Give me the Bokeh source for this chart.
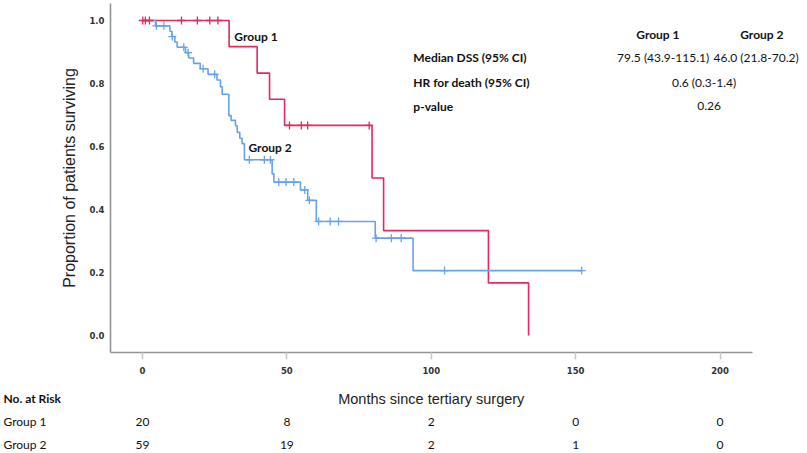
import numpy as np
from bokeh.plotting import figure
from bokeh.models import ColumnDataSource, LabelSet, Label, Range1d, FixedTicker, NumeralTickFormatter
from bokeh.embed import file_html
from bokeh.resources import INLINE
from bokeh.core.properties import value

# ---------------- data ----------------
g1_times = [0, 30.0, 39.7, 44.0, 49.2, 79.5, 83.5, 119.8, 133.7]
g1_surv = [1.0, 0.917, 0.833, 0.750, 0.667, 0.500, 0.333, 0.167, 0.0]
g1_censor = [0.1, 1.0, 2.4, 13.5, 19.0, 23.3, 26.1, 50.9, 55.0, 57.2, 78.5]

g2_times = [0, 4.5, 9.5, 10.2, 11.2, 12.0, 14.9, 16.0, 17.7, 20.0, 22.7, 25.8, 27.0,
            27.6, 29.9, 30.7, 32.2, 32.8, 33.7, 34.5, 35.3, 44.9, 45.5, 54.7, 57.2,
            60.2, 80.6, 93.7]
g2_surv = [1.0, 0.983, 0.966, 0.949, 0.932, 0.915, 0.898, 0.881, 0.864, 0.847, 0.829,
           0.811, 0.790, 0.766, 0.698, 0.683, 0.666, 0.645, 0.626, 0.609, 0.558, 0.513,
           0.487, 0.462, 0.429, 0.362, 0.309, 0.206]
g2_last_followup = 152.1
g2_censor = [4.8, 7.4, 10.3, 14.3, 15.8, 21.0, 25.0, 37.0, 42.2, 44.3, 47.2, 49.7,
             52.4, 56.2, 57.8, 61.0, 65.0, 67.9, 80.9, 86.2, 89.6, 104.6, 152.1]

x_ticks = [0, 50, 100, 150, 200]
y_ticks = [0.0, 0.2, 0.4, 0.6, 0.8, 1.0]

risk_g1 = [20, 8, 2, 0, 0]
risk_g2 = [59, 19, 2, 1, 0]
risk_header = "No. at Risk"
risk_groups = ["Group 1", "Group 2"]

stat_headers = ["Group 1", "Group 2"]
stat_rows = ["Median DSS (95% CI)", "HR for death (95% CI)", "p-value"]
median_g1 = "79.5 (43.9-115.1)"
median_g2 = "46.0 (21.8-70.2)"
hr_text = "0.6 (0.3-1.4)"
p_text = "0.26"

RED = "#E2285F"
BLUE = "#66A3EA"
FONT = "Lato"
TXT = "#111111"
FS = "12px"


def censor_y(times, surv, cens):
    t = np.asarray(times)
    s = np.asarray(surv)
    idx = np.searchsorted(t, np.asarray(cens), side="right") - 1
    return s[idx]


W = 807
LEFT = 110
X0, X1 = -11.08, 230.3          # visible x range of the main frame
AX_END = 211.1                  # where the drawn x axis line stops

p = figure(width=W, height=383, output_backend="svg", toolbar_location=None,
           x_range=Range1d(X0, X1), y_range=Range1d(-0.054, 1.054),
           min_border_left=LEFT, min_border_right=0, min_border_top=3,
           min_border_bottom=31)
p.outline_line_color = None
p.xgrid.visible = False
p.ygrid.visible = False

# step curves
p.step(g1_times, g1_surv, mode="after", line_color=RED, line_width=1.6)
x2 = list(g2_times) + [g2_last_followup]
y2 = list(g2_surv) + [g2_surv[-1]]
p.step(x2, y2, mode="after", line_color=BLUE, line_width=1.6)

# censor marks
p.scatter(g1_censor, censor_y(g1_times, g1_surv, g1_censor), marker="cross",
          size=8, line_color=RED, line_width=1.3)
p.scatter(g2_censor, censor_y(x2, y2, g2_censor), marker="cross",
          size=8, line_color=BLUE, line_width=1.3)

# axes
for ax in (p.xaxis[0], p.yaxis[0]):
    ax.axis_line_color = "#949494"
    ax.axis_line_width = 1.6
    ax.minor_tick_line_color = None
    ax.major_label_text_font = "DejaVu Sans"
    ax.major_label_text_font_style = "bold"
    ax.major_label_text_font_size = "8.5px"
    ax.major_label_text_color = "#333333"
    ax.axis_label_text_font = "Liberation Sans"
    ax.axis_label_text_font_style = "normal"
    ax.axis_label_text_color = "#222222"

p.xaxis.bounds = (X0, AX_END)
p.xaxis.ticker = FixedTicker(ticks=x_ticks)
p.xaxis.major_tick_line_color = "#c8c8c8"
p.xaxis.major_tick_line_width = 1.5
p.xaxis.major_tick_out = 7
p.xaxis.major_tick_in = 0
p.xaxis.major_label_standoff = 7

p.yaxis.ticker = FixedTicker(ticks=y_ticks)
p.yaxis.formatter = NumeralTickFormatter(format="0.0")
p.yaxis.major_tick_line_color = None
p.yaxis.major_tick_out = 0
p.yaxis.major_tick_in = 0
p.yaxis.major_label_standoff = 6
p.yaxis.axis_label = "Proportion of patients surviving"
p.yaxis.axis_label_text_font_size = "16px"
p.yaxis.axis_label_standoff = 8

# curve labels
p.add_layout(Label(x=31.8, y=0.949, text="Group 1", text_baseline="middle",
                   text_font=FONT, text_font_style="bold", text_font_size=FS,
                   text_color=TXT))
p.add_layout(Label(x=36.7, y=0.597, text="Group 2", text_baseline="middle",
                   text_font=FONT, text_font_style="bold", text_font_size=FS,
                   text_color=TXT))

# statistics table
stat_y = [0.883, 0.803, 0.727]
hdr_src = ColumnDataSource(dict(x=[178.5, 214.5], y=[0.956, 0.956], t=stat_headers))
p.add_layout(LabelSet(x="x", y="y", text="t", source=hdr_src, text_align="center",
                      text_baseline="middle", text_font=value(FONT),
                      text_font_style="bold", text_font_size=FS, text_color=TXT))
row_src = ColumnDataSource(dict(x=[93.8] * 3, y=stat_y, t=stat_rows))
p.add_layout(LabelSet(x="x", y="y", text="t", source=row_src, text_align="left",
                      text_baseline="middle", text_font=value(FONT),
                      text_font_style="bold", text_font_size=FS, text_color=TXT))
val_src = ColumnDataSource(dict(x=[180.3, 212.5, 194.5, 196.2],
                                y=[stat_y[0], stat_y[0], stat_y[1], stat_y[2]],
                                t=[median_g1, median_g2, hr_text, p_text]))
p.add_layout(LabelSet(x="x", y="y", text="t", source=val_src, text_align="center",
                      text_baseline="middle", text_font=value(FONT),
                      text_font_size=FS, text_color=TXT))

# ---------------- lower panel: axis title + numbers at risk ----------------
px_per_unit = (W - LEFT) / (X1 - X0)
B0 = X0 - LEFT / px_per_unit
B1 = X1
H2 = 70
q = figure(width=W, height=H2, output_backend="svg", toolbar_location=None,
           x_range=Range1d(B0, B1), y_range=Range1d(H2, 0),
           min_border=0, min_border_left=0, min_border_right=0,
           min_border_top=0, min_border_bottom=0)
q.axis.visible = False
q.grid.visible = False
q.outline_line_color = None

q.text(x=[(X0 + AX_END) / 2], y=[15], text=["Months since tertiary surgery"],
       text_align="center", text_baseline="middle",
       text_font=value("Liberation Sans"), text_font_size="14.5px",
       text_color="#222222")

row_y = [15, 38, 61]
xl = B0 + 3 / px_per_unit
q.text(x=[xl], y=[row_y[0]], text=[risk_header], text_align="left",
       text_baseline="middle", text_font=value(FONT), text_font_style="bold",
       text_font_size=FS, text_color=TXT)
q.text(x=[xl, xl], y=row_y[1:], text=risk_groups, text_align="left",
       text_baseline="middle", text_font=value(FONT), text_font_size=FS,
       text_color=TXT)
rx = x_ticks + x_ticks
ry = [row_y[1]] * len(x_ticks) + [row_y[2]] * len(x_ticks)
rt = [str(v) for v in risk_g1] + [str(v) for v in risk_g2]
q.text(x=rx, y=ry, text=rt, text_align="center", text_baseline="middle",
       text_font=value(FONT), text_font_size=FS, text_color=TXT)

open("out.html", "w").write(file_html([p, q], INLINE))
